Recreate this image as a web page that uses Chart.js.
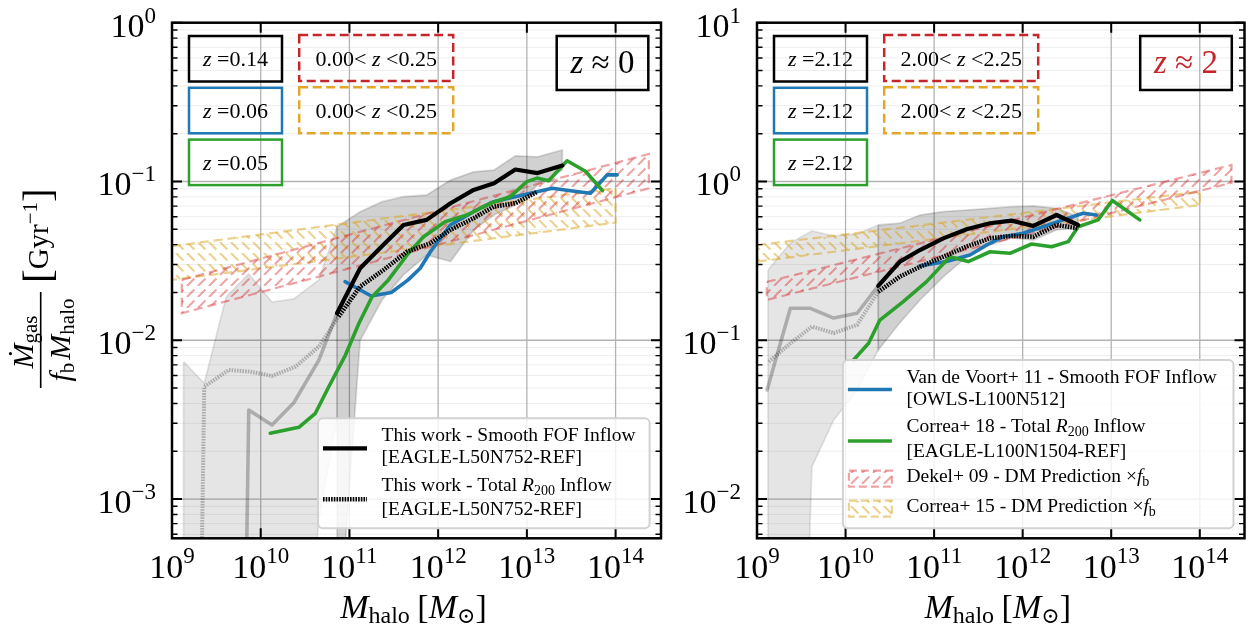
<!DOCTYPE html>
<html>
<head>
<meta charset="utf-8">
<script src="https://cdn.jsdelivr.net/npm/chart.js@4.4.1/dist/chart.umd.min.js"></script>
<style>
  html, body { margin: 0; padding: 0; background: #fff; }
  #wrap { position: relative; width: 1249px; height: 632px; overflow: hidden; }
  canvas { position: absolute; top: 0; }
  #c0 { left: 0; }
  #c2 { left: 675px; }
</style>
</head>
<body>
<div id="wrap">
  <canvas id="c0" width="675" height="632"></canvas>
  <canvas id="c2" width="574" height="632"></canvas>
</div>
<script>
const SERIF = "'Liberation Serif', 'DejaVu Serif', serif";
const RED = '#d62728', DARKRED = '#c4262b', GOLD = '#daa520', BLUE = '#1f77b4', GREEN = '#2ca02c';

// axis ticks
const xTickExps = [9, 10, 11, 12, 13, 14];
const yTickExps0 = [0, -1, -2, -3];
const yTickExps2 = [1, 0, -1, -2];
const minorSteps = [2, 3, 4, 5, 6, 7, 8, 9];

// ---------- z ~ 0 panel ----------
const z0SmoothMass = [7.24e10, 1.32e11, 2.34e11, 4.07e11, 7.41e11, 1.38e12, 2.51e12, 4.27e12, 7.41e12, 1.32e13, 2.51e13];
const z0SmoothRate = [0.0148, 0.0284, 0.0392, 0.0532, 0.0573, 0.0729, 0.0885, 0.0975, 0.119, 0.113, 0.126];
const z0SmoothHi = [0.0519, 0.0645, 0.0746, 0.0802, 0.0822, 0.102, 0.115, 0.118, 0.145, 0.143, 0.158];
const z0SmoothLo = [1e-4, 0.0100, 0.0180, 0.0258, 0.0344, 0.0313, 0.0495, 0.0615, 0.071, 0.095, 0.118];
const z0LowMass = [4.07e9, 7.33e9, 1.34e10, 2.36e10, 4.52e10, 7.24e10];
const z0LowRate = [1e-12, 0.00364, 0.00293, 0.00404, 0.0075, 0.0148];
const z0LowBandMass = [1.35e9, 2.31e9, 4.07e9, 7.33e9, 1.34e10, 2.36e10, 4.52e10, 7.24e10];
const z0LowBandHi = [0.00733, 0.00536, 0.0187, 0.0262, 0.0174, 0.0182, 0.0240, 0.0519];
const z0LowBandLo = [1e-5, 1e-5, 1e-5, 1e-5, 1e-5, 1e-5, 7.4e-4, 0.0032];
const z0TotalMass = [7.55e10, 1.32e11, 2.42e11, 4.45e11, 8.15e11, 1.37e12, 2.51e12, 4.22e12, 7.41e12, 1.30e13];
const z0TotalRate = [0.0141, 0.0218, 0.0277, 0.0361, 0.0408, 0.0495, 0.0587, 0.0694, 0.0729, 0.0859];
const z0TotalLowMass = [1.29e9, 2.31e9, 4.36e9, 7.64e9, 1.34e10, 2.46e10, 4.52e10, 7.55e10];
const z0TotalLowRate = [1e-12, 0.00510, 0.00650, 0.00634, 0.00596, 0.00682, 0.00912, 0.0141];
const z0VoortMass = [8.93e10, 1.76e11, 2.96e11, 4.59e11, 6.28e11, 8.15e11, 1.37e12, 2.51e12, 4.22e12, 7.41e12, 1.30e13, 1.93e13, 3.10e13, 5.21e13, 8.04e13, 1.04e14];
const z0VoortRate = [0.0234, 0.0190, 0.0200, 0.0240, 0.0284, 0.0360, 0.0532, 0.0645, 0.0746, 0.0802, 0.0863, 0.0906, 0.0875, 0.0843, 0.110, 0.110];
const z0CorreaMass = [1.28e10, 2.69e10, 4.13e10, 5.85e10, 9.02e10, 1.28e11, 1.80e11, 2.75e11, 4.45e11, 6.84e11, 1.20e12, 2.11e12, 3.87e12, 6.50e12, 1.00e13, 1.30e13, 1.76e13, 2.84e13, 4.57e13, 7.11e13];
const z0CorreaRate = [0.00260, 0.00283, 0.00347, 0.00510, 0.00807, 0.0128, 0.0188, 0.0240, 0.0344, 0.0449, 0.0558, 0.0615, 0.0729, 0.0802, 0.0998, 0.105, 0.101, 0.135, 0.116, 0.0877];
const z0DekelMass = [1.29e9, 2.37e14];
const z0DekelHi = [0.0240, 0.149];
const z0DekelLo = [0.0148, 0.0906];
const z0C15Mass = [1e9, 1e14];
const z0C15Hi = [0.0392, 0.0906];
const z0C15Lo = [0.0240, 0.0551];
const z0Snap = ['0.14', '0.06', '0.05'];
const z0Range = ['0.00', '0.25'];

// ---------- z ~ 2 panel ----------
const z2SmoothMass = [2.34e10, 4.11e10, 6.92e10, 1.27e11, 2.33e11, 4.27e11, 7.50e11, 1.32e12, 2.42e12, 4.23e12];
const z2SmoothRate = [0.220, 0.313, 0.370, 0.438, 0.500, 0.546, 0.567, 0.525, 0.615, 0.532];
const z2SmoothHi = [0.532, 0.546, 0.615, 0.646, 0.661, 0.678, 0.694, 0.701, 0.678, 0.600];
const z2SmoothLo = [0.0869, 0.129, 0.179, 0.251, 0.335, 0.398, 0.441, 0.428, 0.495, 0.509];
const z2LowMass = [1.30e9, 2.38e9, 4.00e9, 7.35e9, 1.35e10, 2.34e10];
const z2LowRate = [0.0486, 0.159, 0.159, 0.138, 0.148, 0.220];
const z2LowBandMass = [1.33e9, 2.38e9, 4.17e9, 7.35e9, 1.35e10, 2.34e10];
const z2LowBandHi = [0.277, 0.410, 0.488, 0.454, 0.467, 0.532];
const z2LowBandLo = [1e-6, 1e-6, 0.016, 0.0315, 0.0486, 0.0869];
const z2TotalMass = [2.34e10, 4.11e10, 6.92e10, 1.27e11, 2.33e11, 4.27e11, 7.50e11, 1.32e12, 2.42e12, 4.23e12];
const z2TotalRate = [0.202, 0.252, 0.290, 0.336, 0.389, 0.439, 0.454, 0.449, 0.532, 0.507];
const z2TotalLowMass = [1.36e9, 2.38e9, 4.18e9, 7.35e9, 1.35e10, 2.34e10];
const z2TotalLowRate = [0.0733, 0.0957, 0.122, 0.111, 0.125, 0.202];
const z2VoortMass = [6.92e10, 1.38e11, 2.54e11, 3.92e11, 6.03e11, 1.01e12, 1.70e12, 2.86e12, 4.82e12, 6.82e12];
const z2VoortRate = [0.294, 0.313, 0.344, 0.398, 0.449, 0.472, 0.519, 0.573, 0.631, 0.615];
const z2CorreaMass = [1.23e10, 1.82e10, 2.44e10, 4.48e10, 8.22e10, 1.51e11, 2.43e11, 4.27e11, 7.18e11, 1.26e12, 2.12e12, 3.27e12, 4.23e12, 7.11e12, 1.03e13, 2.10e13];
const z2CorreaRate = [0.0752, 0.0957, 0.134, 0.175, 0.234, 0.336, 0.313, 0.361, 0.353, 0.404, 0.388, 0.418, 0.519, 0.573, 0.759, 0.573];
const z2DekelMass = [1.29e9, 2.28e14];
const z2DekelHi = [0.233, 1.27];
const z2DekelLo = [0.1795, 0.98];
const z2C15Mass = [1e9, 1e14];
const z2C15Hi = [0.398, 0.863];
const z2C15Lo = [0.313, 0.711];
const z2Snap = ['2.12', '2.12', '2.12'];
const z2Range = ['2.00', '2.25'];

// hatch tile: broken diagonal strokes like the matplotlib hatch
function hatch(color, dir) {
  const s = 11, c = document.createElement('canvas');
  c.width = s; c.height = s;
  const g = c.getContext('2d');
  g.strokeStyle = color; g.lineWidth = 2;
  g.setLineDash([10.5, 5]);
  for (const o of [-s, 0, s]) {
    g.beginPath();
    if (dir > 0) { g.moveTo(o, s); g.lineTo(o + s, 0); }
    else { g.moveTo(o, 0); g.lineTo(o + s, s); }
    g.stroke();
  }
  return g.createPattern(c, 'repeat');
}
const redHatchColor = 'rgba(214,39,40,0.42)';
const goldHatchColor = 'rgba(218,165,32,0.5)';
const redHatch = hatch(redHatchColor, 1);
const goldHatch = hatch(goldHatchColor, -1);

function line(xs, ys, color, width, dash, order) {
  return {
    data: xs.map((x, i) => ({ x, y: ys[i] })),
    borderColor: color, borderWidth: width, borderDash: dash || [],
    borderJoinStyle: 'round', borderCapStyle: dash ? 'butt' : 'round',
    pointRadius: 0, fill: false, tension: 0, order
  };
}

function band(xs, hi, lo, fillColor, edgeColor, edgeWidth, dash, order) {
  const pts = xs.map((x, i) => ({ x, y: hi[i] }));
  for (let i = xs.length - 1; i >= 0; i--) pts.push({ x: xs[i], y: lo[i] });
  pts.push(pts[0]);
  return {
    data: pts, fill: 'shape', backgroundColor: fillColor,
    borderColor: edgeColor, borderWidth: edgeWidth, borderDash: dash || [],
    pointRadius: 0, tension: 0, order
  };
}

function font(size, italic) { return (italic ? 'italic ' : '') + size + 'px ' + SERIF; }

function rich(ctx, parts, x, y, align) {
  let w = 0;
  parts.forEach(p => { ctx.font = font(p[1], p[2]); w += ctx.measureText(p[0]).width; });
  let cx = align === 'center' ? x - w / 2 : align === 'right' ? x - w : x;
  ctx.textAlign = 'left'; ctx.textBaseline = 'alphabetic';
  parts.forEach(p => {
    ctx.font = font(p[1], p[2]);
    ctx.fillText(p[0], cx, y + (p[3] || 0));
    cx += ctx.measureText(p[0]).width;
  });
  return w;
}

function expText(e) { return e < 0 ? '\u2212' + (-e) : String(e); }

function yMinorValues(scale) {
  const out = [];
  for (let e = Math.floor(Math.log10(scale.min)); e <= Math.ceil(Math.log10(scale.max)); e++) {
    minorSteps.forEach(k => { const v = k * Math.pow(10, e); if (v > scale.min && v < scale.max) out.push(v); });
  }
  return out;
}

const xLabelParts = [['M', 34, true], ['halo', 24, false, 5], [' ', 30], ['[', 34], ['M', 34, true], ['\u2299', 22, false, 5], [']', 34]];

function drawLegend(ctx, a, L) {
  const x0 = a.right - L.right - L.w, y0 = a.bottom - L.bottom - L.h;
  ctx.save();
  ctx.beginPath();
  ctx.roundRect(x0, y0, L.w, L.h, 5);
  ctx.fillStyle = 'rgba(255,255,255,0.82)';
  ctx.fill();
  ctx.strokeStyle = '#d2d2d2'; ctx.lineWidth = 2;
  ctx.stroke();
  L.items.forEach(it => {
    if (it.kind === 'line') {
      ctx.beginPath();
      ctx.strokeStyle = it.color; ctx.lineWidth = it.width;
      ctx.setLineDash(it.dash || []);
      ctx.moveTo(x0 + 5, y0 + it.y); ctx.lineTo(x0 + 49, y0 + it.y);
      ctx.stroke();
    } else {
      ctx.setLineDash([]);
      ctx.fillStyle = it.pattern;
      ctx.fillRect(x0 + 6, y0 + it.y, 43, 16);
      ctx.strokeStyle = it.color; ctx.lineWidth = 2.2;
      ctx.setLineDash([8, 4]);
      ctx.strokeRect(x0 + 6, y0 + it.y, 43, 16);
    }
  });
  ctx.setLineDash([]);
  ctx.fillStyle = '#000';
  L.texts.forEach(t => rich(ctx, t[1], x0 + 63.5, y0 + t[0], 'left'));
  ctx.restore();
}

function drawYLabel(ctx) {
  ctx.save();
  ctx.translate(40.7, 282);
  ctx.rotate(-Math.PI / 2);
  ctx.fillStyle = '#000';
  ctx.fillRect(-106, -0.8, 96, 1.6);
  rich(ctx, [['\u1E40', 30, true], ['gas', 21, false, 4]], -60, -8, 'center');
  rich(ctx, [['f', 30, true], ['b', 21, false, 4], [' ', 12], ['M', 30, true], ['halo', 21, false, 4]], -58, 29, 'center');
  rich(ctx, [['[', 41, false, 3], ['Gyr', 29], ['\u22121', 21, false, -11], [']', 41, false, 3]], -1, 7, 'left');
  ctx.restore();
}

function decor(P) {
  return {
    id: 'decor',
    beforeDatasetsDraw(chart) {
      const { ctx, chartArea: a, scales: { x, y } } = chart;
      ctx.save();
      ctx.lineWidth = 1; ctx.strokeStyle = '#eeeeee';
      yMinorValues(y).forEach(v => {
        const py = y.getPixelForValue(v);
        ctx.beginPath(); ctx.moveTo(a.left, py); ctx.lineTo(a.right, py); ctx.stroke();
      });
      ctx.lineWidth = 1.3; ctx.strokeStyle = '#b3b3b3';
      P.yExps.forEach(e => {
        const py = y.getPixelForValue(Math.pow(10, e));
        ctx.beginPath(); ctx.moveTo(a.left, py); ctx.lineTo(a.right, py); ctx.stroke();
      });
      xTickExps.forEach(e => {
        const px = x.getPixelForValue(Math.pow(10, e));
        ctx.beginPath(); ctx.moveTo(px, a.top); ctx.lineTo(px, a.bottom); ctx.stroke();
      });
      ctx.restore();
    },
    afterDatasetsDraw(chart) {
      const { ctx, chartArea: a, scales: { x, y } } = chart;
      ctx.save();
      ctx.strokeStyle = '#000';
      // ticks
      ctx.lineWidth = 1.4;
      yMinorValues(y).forEach(v => {
        const py = y.getPixelForValue(v);
        ctx.beginPath();
        ctx.moveTo(a.left, py); ctx.lineTo(a.left + 5.5, py);
        ctx.moveTo(a.right, py); ctx.lineTo(a.right - 5.5, py);
        ctx.stroke();
      });
      ctx.lineWidth = 2;
      P.yExps.forEach(e => {
        const py = y.getPixelForValue(Math.pow(10, e));
        ctx.beginPath();
        ctx.moveTo(a.left, py); ctx.lineTo(a.left + 10, py);
        ctx.moveTo(a.right, py); ctx.lineTo(a.right - 10, py);
        ctx.stroke();
      });
      xTickExps.forEach(e => {
        const px = x.getPixelForValue(Math.pow(10, e));
        ctx.beginPath();
        ctx.moveTo(px, a.bottom); ctx.lineTo(px, a.bottom - 10);
        ctx.moveTo(px, a.top); ctx.lineTo(px, a.top + 10);
        ctx.stroke();
      });
      // frame
      ctx.lineWidth = 2.5;
      ctx.strokeRect(a.left, a.top, a.right - a.left, a.bottom - a.top);

      // snapshot boxes
      const boxColors = ['#000', BLUE, GREEN];
      P.snap.forEach((z, i) => {
        const bx = a.left + 17, by = a.top + 13.3 + i * 51.8;
        ctx.strokeStyle = boxColors[i]; ctx.lineWidth = 2.5;
        ctx.strokeRect(bx, by, 93, 45.5);
        ctx.fillStyle = '#000';
        rich(ctx, [['z', 22, true], [' =', 22], [z, 22]], bx + 46.5, by + 30, 'center');
      });
      const rangeColors = [DARKRED, '#e2a629'];
      rangeColors.forEach((c, i) => {
        const bx = a.left + 127.2, by = a.top + 12.3 + i * 52.3;
        ctx.strokeStyle = c; ctx.lineWidth = 2.5; ctx.setLineDash([9, 4.5]);
        ctx.strokeRect(bx, by, 154, 46);
        ctx.setLineDash([]);
        ctx.fillStyle = '#000';
        rich(ctx, [[P.range[0], 22], ['< ', 22], ['z', 22, true], [' <', 22], [P.range[1], 22]], bx + 77, by + 30.5, 'center');
      });
      const zx = a.right - 12.7 - 91.6, zy = a.top + 13.3;
      ctx.strokeStyle = '#000'; ctx.lineWidth = 2.5;
      ctx.strokeRect(zx, zy, 91.6, 54);
      ctx.fillStyle = P.zColor;
      rich(ctx, [['z', 33, true], [' \u2248 ' + P.zText, 33]], zx + 45.8, zy + 37, 'center');

      drawLegend(ctx, a, P.legend);

      // tick labels
      ctx.fillStyle = '#000';
      xTickExps.forEach(e => {
        const px = x.getPixelForValue(Math.pow(10, e));
        rich(ctx, [['10', 34], [expText(e), 23, false, -15]], px, a.bottom + 40, 'center');
      });
      P.yExps.forEach(e => {
        const py = y.getPixelForValue(Math.pow(10, e));
        rich(ctx, [['10', 34], [expText(e), 23, false, -14]], a.left - 16, py + 14, 'right');
      });
      rich(ctx, xLabelParts, (a.left + a.right) / 2 - 3, a.bottom + 80, 'center');
      if (P.ylabel) drawYLabel(ctx);
      ctx.restore();
    }
  };
}

const faded = 'rgba(0,0,0,0.25)';
const dots = [1.6, 1.1];

const panels = [
  {
    canvas: 'c0', pad: { left: 172, right: 14, top: 22.7, bottom: 93.7 },
    xMax: 3.25e14, yMin: 5.66e-4, yMax: 1, yExps: yTickExps0,
    snap: z0Snap, range: z0Range, zText: '0', zColor: '#000', ylabel: true,
    datasets: [
      line(z0SmoothMass, z0SmoothRate, '#000', 4.2, null, 1),
      line(z0TotalMass, z0TotalRate, '#000', 4.5, dots, 1),
      line(z0CorreaMass, z0CorreaRate, GREEN, 3.6, null, 2),
      line(z0VoortMass, z0VoortRate, BLUE, 3.6, null, 3),
      line(z0LowMass, z0LowRate, faded, 3.6, null, 4),
      line(z0TotalLowMass, z0TotalLowRate, faded, 4, dots, 4),
      band(z0DekelMass, z0DekelHi, z0DekelLo, redHatch, redHatchColor, 2.2, [9, 5], 6),
      band(z0C15Mass, z0C15Hi, z0C15Lo, goldHatch, goldHatchColor, 2.2, [9, 5], 7),
      band(z0SmoothMass, z0SmoothHi, z0SmoothLo, 'rgba(0,0,0,0.18)', 'rgba(0,0,0,0.14)', 1.8, null, 8),
      band(z0LowBandMass, z0LowBandHi, z0LowBandLo, 'rgba(0,0,0,0.1)', 'rgba(0,0,0,0.1)', 1.8, null, 9)
    ],
    legend: {
      w: 331.6, h: 110, right: 11.4, bottom: 10,
      items: [
        { kind: 'line', color: '#000', width: 4.2, y: 30 },
        { kind: 'line', color: '#000', width: 4.5, dash: dots, y: 81 }
      ],
      texts: [
        [23, [['This work - Smooth FOF Inflow', 19.5]]],
        [45, [['[EAGLE-L50N752-REF]', 19.5]]],
        [72.5, [['This work - Total ', 19.5], ['R', 19.5, true], ['200', 14, false, 4], [' Inflow', 19.5]]],
        [97, [['[EAGLE-L50N752-REF]', 19.5]]]
      ]
    }
  },
  {
    canvas: 'c2', pad: { left: 82, right: 4.5, top: 22.7, bottom: 93.7 },
    xMax: 3.2e14, yMin: 5.66e-3, yMax: 10, yExps: yTickExps2,
    snap: z2Snap, range: z2Range, zText: '2', zColor: DARKRED, ylabel: false,
    datasets: [
      line(z2SmoothMass, z2SmoothRate, '#000', 4.2, null, 1),
      line(z2TotalMass, z2TotalRate, '#000', 4.5, dots, 1),
      line(z2CorreaMass, z2CorreaRate, GREEN, 3.6, null, 2),
      line(z2VoortMass, z2VoortRate, BLUE, 3.6, null, 3),
      line(z2LowMass, z2LowRate, faded, 3.6, null, 4),
      line(z2TotalLowMass, z2TotalLowRate, faded, 4, dots, 4),
      band(z2DekelMass, z2DekelHi, z2DekelLo, redHatch, redHatchColor, 2.2, [9, 5], 6),
      band(z2C15Mass, z2C15Hi, z2C15Lo, goldHatch, goldHatchColor, 2.2, [9, 5], 7),
      band(z2SmoothMass, z2SmoothHi, z2SmoothLo, 'rgba(0,0,0,0.18)', 'rgba(0,0,0,0.14)', 1.8, null, 8),
      band(z2LowBandMass, z2LowBandHi, z2LowBandLo, 'rgba(0,0,0,0.1)', 'rgba(0,0,0,0.1)', 1.8, null, 9)
    ],
    legend: {
      w: 390.6, h: 168.3, right: 11, bottom: 10,
      items: [
        { kind: 'line', color: BLUE, width: 3.6, y: 29.5 },
        { kind: 'line', color: GREEN, width: 3.6, y: 81 },
        { kind: 'patch', pattern: redHatch, color: redHatchColor, y: 110.7 },
        { kind: 'patch', pattern: goldHatch, color: goldHatchColor, y: 140.7 }
      ],
      texts: [
        [22.5, [['Van de Voort+ 11 - Smooth FOF Inflow', 19.5]]],
        [44.5, [['[OWLS-L100N512]', 19.5]]],
        [72, [['Correa+ 18 - Total ', 19.5], ['R', 19.5, true], ['200', 14, false, 4], [' Inflow', 19.5]]],
        [96.7, [['[EAGLE-L100N1504-REF]', 19.5]]],
        [122.3, [['Dekel+ 09 - DM Prediction \u00D7', 19.5], ['f', 19.5, true], ['b', 14, false, 4]]],
        [152.3, [['Correa+ 15 - DM Prediction \u00D7', 19.5], ['f', 19.5, true], ['b', 14, false, 4]]]
      ]
    }
  }
];

panels.forEach(P => {
  new Chart(document.getElementById(P.canvas), {
    type: 'line',
    data: { datasets: P.datasets },
    options: {
      responsive: false, animation: false, devicePixelRatio: 1, events: [],
      layout: { padding: P.pad },
      scales: {
        x: { type: 'logarithmic', display: false, min: 1e9, max: P.xMax },
        y: { type: 'logarithmic', display: false, min: P.yMin, max: P.yMax }
      },
      plugins: { legend: { display: false }, tooltip: { enabled: false } }
    },
    plugins: [decor(P)]
  });
});
</script>
</body>
</html>
